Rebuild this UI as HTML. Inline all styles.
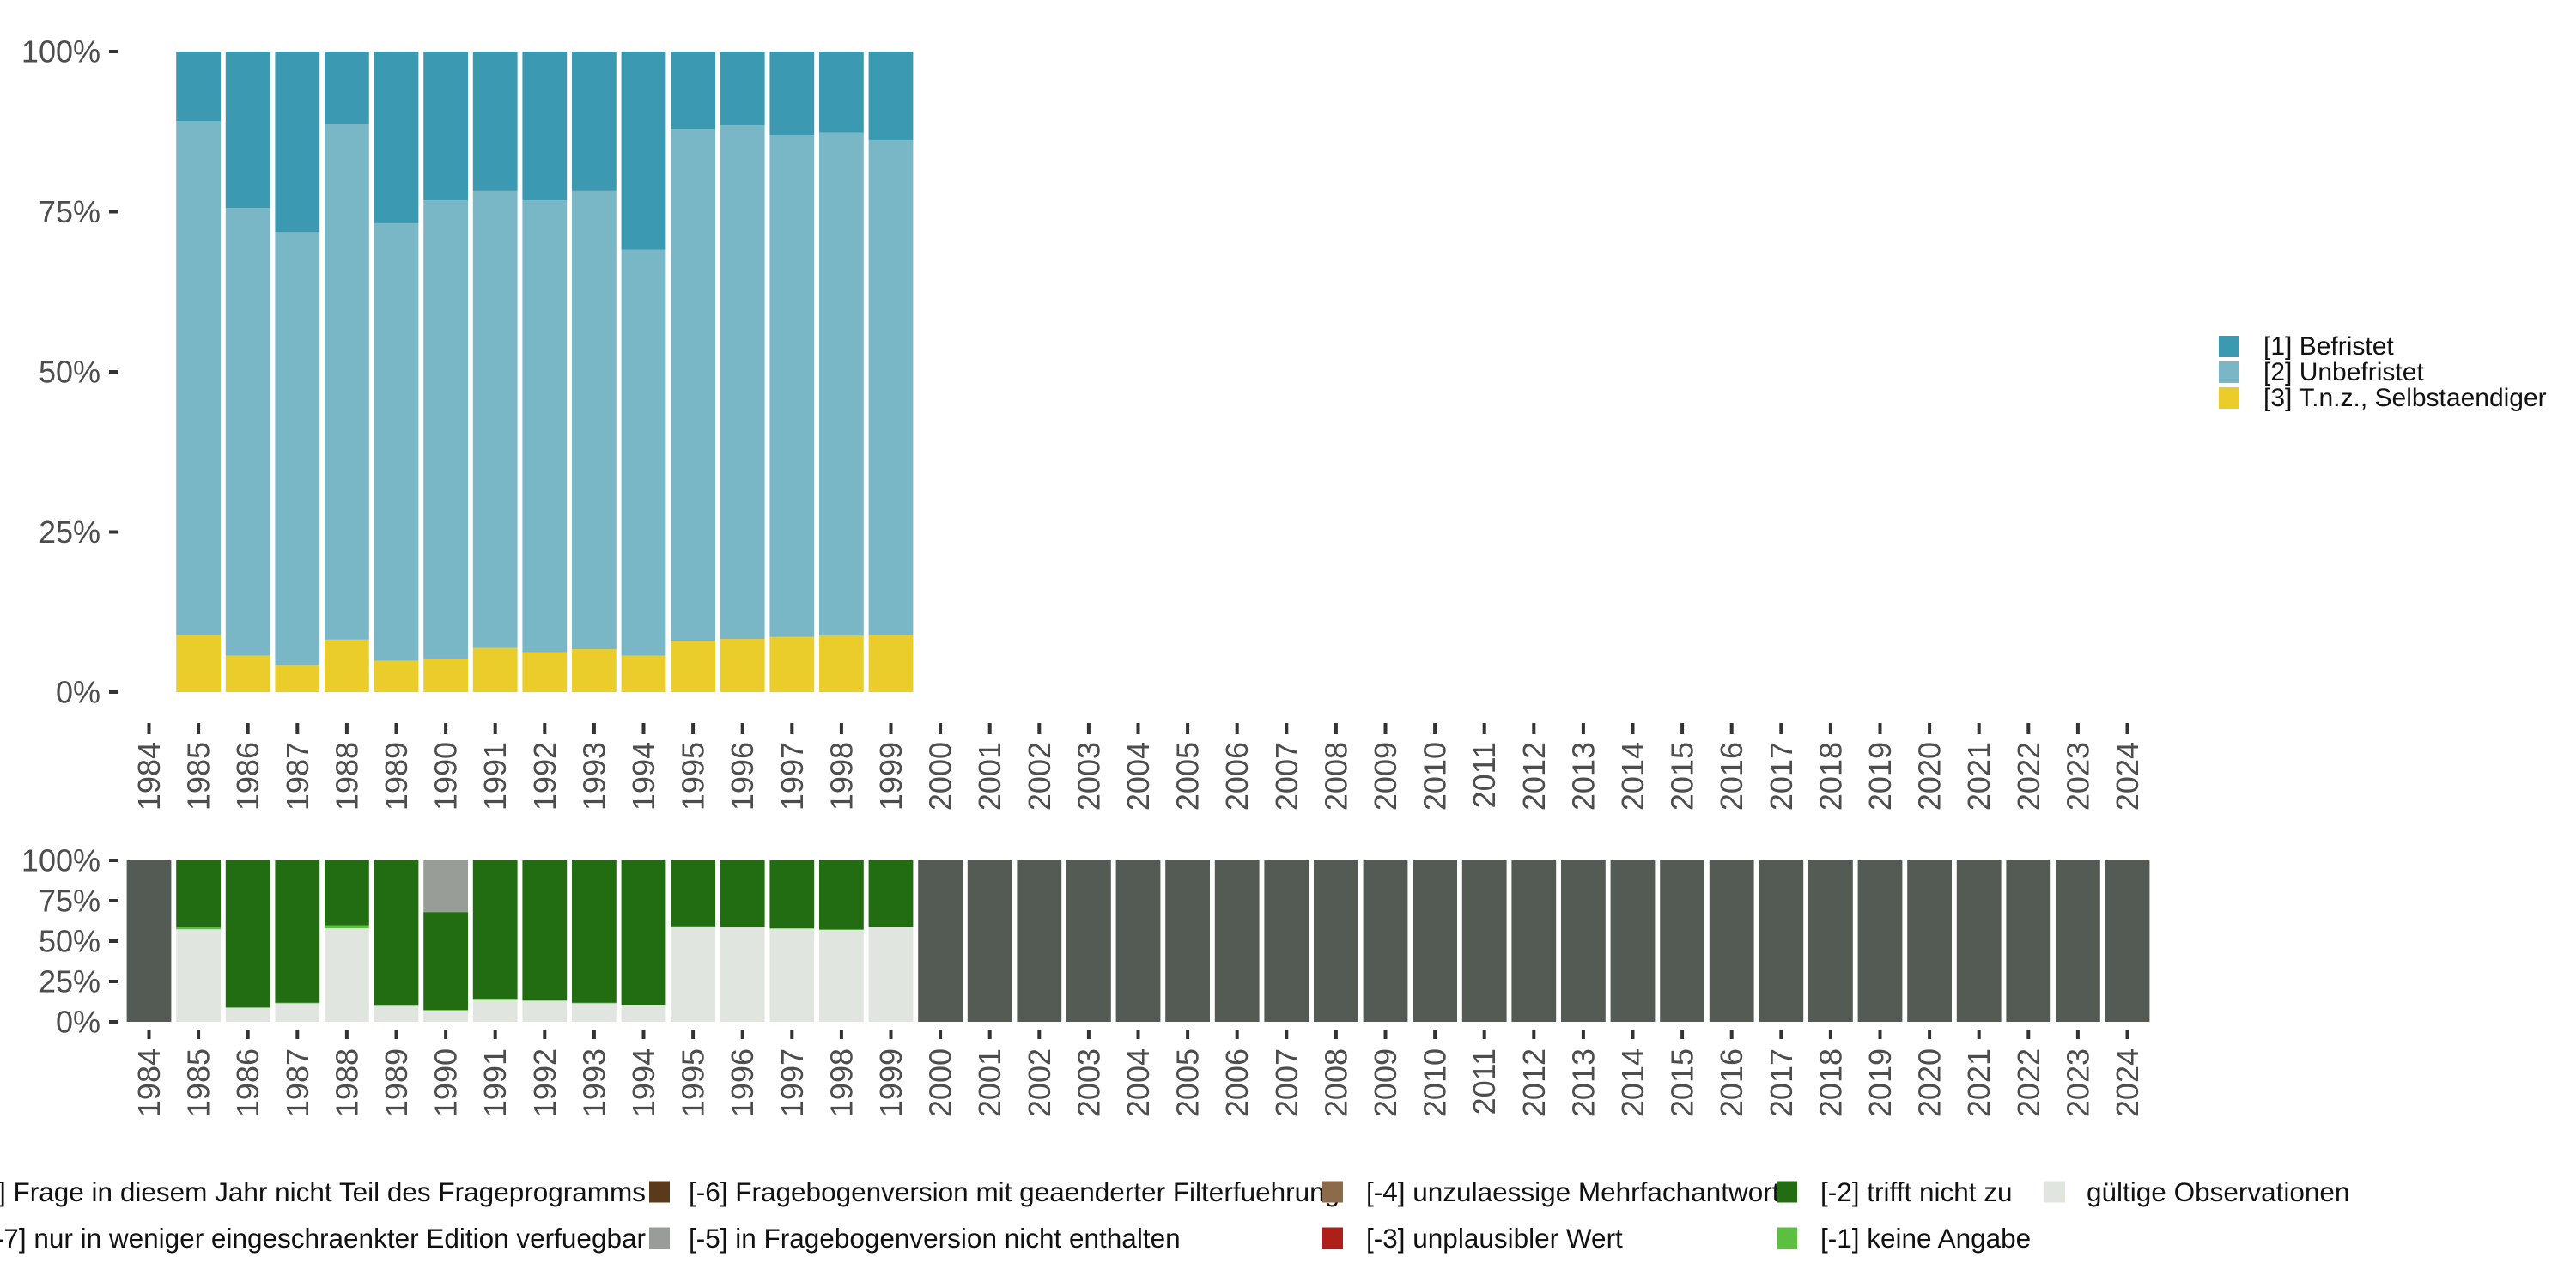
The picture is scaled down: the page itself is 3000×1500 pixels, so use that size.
<!DOCTYPE html>
<html><head><meta charset="utf-8"><style>
html,body{margin:0;padding:0;background:#fff;}
svg{display:block;font-family:"Liberation Sans",sans-serif;}
</style></head><body>
<svg id="chart" width="3000" height="1500" viewBox="0 0 3000 1500" xmlns="http://www.w3.org/2000/svg">
<g id="topPanel"></g>
<g id="botPanel"></g>
<g id="legTop"></g>
<g id="legBot"></g>
</svg>
<script>
const years = [];
for (let y = 1984; y <= 2024; y++) years.push(y);
const topYears = [1985,1986,1987,1988,1989,1990,1991,1992,1993,1994,1995,1996,1997,1998,1999];
const selbst = [8.9,5.7,4.2,8.2,4.9,5.1,6.9,6.2,6.7,5.7,8.0,8.3,8.6,8.8,8.9];
const unbefr = [80.2,69.9,67.6,80.5,68.3,71.7,71.4,70.6,71.6,63.4,79.9,80.2,78.4,78.5,77.3];
const befr = [10.9,24.4,28.2,11.3,26.8,23.2,21.7,23.2,21.7,30.9,12.1,11.5,13.0,12.7,13.8];
const yTicks = [0,25,50,75,100];
const yTickLabels = ["0%","25%","50%","75%","100%"];
const valid = [0,57.3,8.6,11.5,57.9,9.8,7.0,13.5,13.0,11.5,10.3,59.0,58.5,57.7,57.0,58.6];
const keineAngabe = [0,1.3,0.4,0.3,1.9,0.4,0.4,0.4,0.3,0.3,0.3,0.3,0.2,0.2,0.2,0.2];
const trifftNicht = [0,41.4,91.0,88.2,40.2,89.8,60.6,86.1,86.7,88.2,89.4,40.7,41.3,42.1,42.8,41.2];
const nichtEnthalten = [0,0,0,0,0,0,32.0,0,0,0,0,0,0,0,0,0];
const nichtTeil = [100,0,0,0,0,0,0,0,0,0,0,0,0,0,0,0];
for (let i = 16; i < years.length; i++) { valid.push(0); keineAngabe.push(0); trifftNicht.push(0); nichtEnthalten.push(0); nichtTeil.push(100); }

const NS = "http://www.w3.org/2000/svg";
function mk(tag, attrs, parent) { const e = document.createElementNS(NS, tag); for (const k in attrs) e.setAttribute(k, attrs[k]); parent.appendChild(e); return e; }
const x0 = 173.5, step = 57.6, bw = 51.8;
const xPos = y => x0 + (y - 1984) * step;
const yTop = v => 806 - v / 100 * 746;
const yBot = v => 1190 - v / 100 * 188;

const topG = document.getElementById('topPanel');
const botG = document.getElementById('botPanel');

const topSeries = [[selbst,'#eacd2b','selbstaendiger'],[unbefr,'#7ab7c6','unbefristet'],[befr,'#3c99b2','befristet']];
topYears.forEach((yr, i) => {
  let acc = 0;
  topSeries.forEach(s => {
    const v = s[0][i];
    const r = mk('rect', {x: xPos(yr) - bw/2, y: yTop(acc + v), width: bw, height: yTop(acc) - yTop(acc + v), fill: s[1]}, topG);
    
    
    acc += v;
  });
});
const botSeries = [[valid,'#e1e5e0','gueltig'],[keineAngabe,'#5cbf40','keine-angabe'],[trifftNicht,'#226d11','trifft-nicht-zu'],[nichtEnthalten,'#999d97','nicht-enthalten'],[nichtTeil,'#545b55','nicht-teil']];
years.forEach((yr, i) => {
  let acc = 0;
  botSeries.forEach(s => {
    const v = s[0][i];
    if (v <= 0) return;
    const r = mk('rect', {x: xPos(yr) - bw/2, y: yBot(acc + v), width: bw, height: yBot(acc) - yBot(acc + v), fill: s[1]}, botG);
    
    
    acc += v;
  });
});
function yAxis(parent, scale, name) {
  yTicks.forEach((t, i) => {
    const ln = mk('line', {x1: 127, x2: 138, y1: scale(t), y2: scale(t), stroke: '#333', 'stroke-width': 4}, parent);
    
    
    const tx = mk('text', {x: 117, y: scale(t), 'text-anchor': 'end', 'dominant-baseline': 'central', 'font-size': 36, fill: '#4d4d4d'}, parent);
    tx.textContent = yTickLabels[i];
    
    
  });
}
function xAxis(parent, t1, t2, ly, name) {
  years.forEach(yr => {
    const x = xPos(yr);
    const ln = mk('line', {x1: x, x2: x, y1: t1, y2: t2, stroke: '#333', 'stroke-width': 4}, parent);
    
    
    const tx = mk('text', {x: x, y: ly, 'text-anchor': 'end', 'dominant-baseline': 'central', 'font-size': 36, fill: '#4d4d4d', transform: 'rotate(-90 ' + x + ' ' + ly + ')'}, parent);
    tx.textContent = yr;
    
    
  });
}
yAxis(topG, yTop, 'top-y-axis');
yAxis(botG, yBot, 'bottom-y-axis');
xAxis(topG, 842, 855, 864, 'top-x-axis');
xAxis(botG, 1199, 1210, 1221, 'bottom-x-axis');

const legT = document.getElementById('legTop');
[['[1] Befristet','#3c99b2'],['[2] Unbefristet','#7ab7c6'],['[3] T.n.z., Selbstaendiger','#eacd2b']].forEach((e, i) => {
  const cy = 403.5 + i * 30;
  const r = mk('rect', {x: 2584, y: cy - 12.5, width: 24, height: 25, fill: e[1]}, legT);
  
  
  const t = mk('text', {x: 2636, y: cy, 'dominant-baseline': 'central', 'font-size': 30, fill: '#111'}, legT);
  t.textContent = e[0];
  
  
});
const legB = document.getElementById('legBot');
const bl = [
  [null, 752, 1388, '[-8] Frage in diesem Jahr nicht Teil des Frageprogramms', '#545b55'],
  [null, 752, 1442, '[-7] nur in weniger eingeschraenkter Edition verfuegbar', '#000'],
  [756, 802, 1388, '[-6] Fragebogenversion mit geaenderter Filterfuehrung', '#5a3a1a'],
  [756, 802, 1442, '[-5] in Fragebogenversion nicht enthalten', '#999d97'],
  [1540, 1591, 1388, '[-4] unzulaessige Mehrfachantwort', '#8b6b4a'],
  [1540, 1591, 1442, '[-3] unplausibler Wert', '#ae1f1a'],
  [2069, 2120, 1388, '[-2] trifft nicht zu', '#226d11'],
  [2069, 2120, 1442, '[-1] keine Angabe', '#5cbf40'],
  [2381, 2430, 1388, 'gültige Observationen', '#e1e5e0']
];
bl.forEach(e => {
  if (e[0] !== null) {
    const r = mk('rect', {x: e[0], y: e[2] - 12.5, width: 24, height: 25, fill: e[4]}, legB);
    
    
  }
  const t = mk('text', {x: e[1], y: e[2], 'dominant-baseline': 'central', 'font-size': 31.5, fill: '#111', 'text-anchor': e[0] === null ? 'end' : 'start'}, legB);
  t.textContent = e[3];
  
  
});
</script>
</body></html>
